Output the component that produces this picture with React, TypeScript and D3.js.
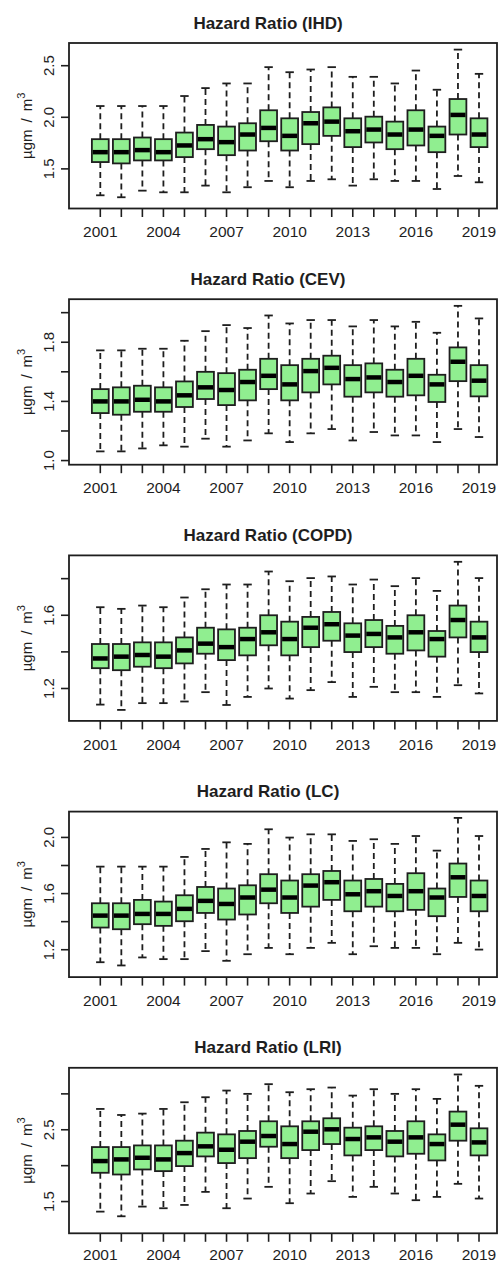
import React, { useEffect, useRef } from 'react';
import * as d3 from 'd3';

// five-number summaries per year: [low whisker, q1, median, q3, high whisker]
const years = d3.range(2001, 2020).map(String);
const yearLabels = ['2001', '2004', '2007', '2010', '2013', '2016', '2019'];

const ihd = [
  [1.244, 1.566, 1.662, 1.788, 2.109], [1.225, 1.553, 1.662, 1.788, 2.109],
  [1.289, 1.582, 1.682, 1.804, 2.109], [1.273, 1.582, 1.662, 1.788, 2.109],
  [1.273, 1.614, 1.727, 1.852, 2.206], [1.338, 1.691, 1.788, 1.926, 2.283],
  [1.273, 1.633, 1.759, 1.910, 2.328], [1.322, 1.678, 1.833, 1.942, 2.328],
  [1.383, 1.768, 1.897, 2.068, 2.486], [1.322, 1.678, 1.820, 1.990, 2.437],
  [1.383, 1.740, 1.942, 2.051, 2.463], [1.399, 1.820, 1.958, 2.096, 2.486],
  [1.338, 1.711, 1.865, 1.990, 2.392], [1.399, 1.756, 1.881, 2.006, 2.392],
  [1.383, 1.691, 1.833, 1.958, 2.328], [1.383, 1.727, 1.881, 2.068, 2.453],
  [1.305, 1.662, 1.820, 1.910, 2.267], [1.431, 1.833, 2.023, 2.177, 2.656],
  [1.370, 1.711, 1.833, 1.990, 2.421],
];
const cev = [
  [1.062, 1.321, 1.400, 1.483, 1.745], [1.062, 1.310, 1.400, 1.495, 1.745],
  [1.082, 1.330, 1.411, 1.506, 1.756], [1.103, 1.330, 1.400, 1.495, 1.756],
  [1.094, 1.362, 1.441, 1.535, 1.810], [1.148, 1.416, 1.495, 1.600, 1.875],
  [1.094, 1.375, 1.477, 1.591, 1.916], [1.136, 1.407, 1.531, 1.614, 1.896],
  [1.184, 1.483, 1.573, 1.688, 1.981], [1.125, 1.407, 1.515, 1.645, 1.927],
  [1.184, 1.461, 1.605, 1.688, 1.950], [1.213, 1.515, 1.627, 1.709, 1.950],
  [1.136, 1.432, 1.551, 1.645, 1.907], [1.193, 1.461, 1.562, 1.657, 1.950],
  [1.170, 1.432, 1.531, 1.614, 1.907], [1.170, 1.441, 1.573, 1.688, 1.938],
  [1.125, 1.396, 1.515, 1.580, 1.864], [1.213, 1.537, 1.668, 1.765, 2.046],
  [1.159, 1.434, 1.540, 1.645, 1.961],
];
const copd = [
  [1.112, 1.311, 1.364, 1.443, 1.644], [1.083, 1.300, 1.374, 1.443, 1.635],
  [1.120, 1.319, 1.383, 1.452, 1.653], [1.120, 1.311, 1.374, 1.452, 1.644],
  [1.129, 1.337, 1.408, 1.479, 1.697], [1.180, 1.390, 1.445, 1.532, 1.742],
  [1.110, 1.355, 1.426, 1.523, 1.768], [1.154, 1.381, 1.470, 1.532, 1.768],
  [1.200, 1.436, 1.507, 1.600, 1.839], [1.145, 1.381, 1.470, 1.565, 1.786],
  [1.191, 1.426, 1.532, 1.591, 1.803], [1.235, 1.461, 1.551, 1.618, 1.812],
  [1.154, 1.399, 1.489, 1.556, 1.768], [1.209, 1.426, 1.498, 1.574, 1.795],
  [1.180, 1.390, 1.479, 1.542, 1.759], [1.180, 1.408, 1.507, 1.600, 1.803],
  [1.154, 1.374, 1.470, 1.514, 1.733], [1.218, 1.479, 1.574, 1.653, 1.892],
  [1.173, 1.399, 1.479, 1.565, 1.803],
];
const lc = [
  [1.111, 1.358, 1.443, 1.531, 1.792], [1.088, 1.346, 1.443, 1.531, 1.792],
  [1.145, 1.382, 1.455, 1.555, 1.792], [1.133, 1.370, 1.455, 1.543, 1.792],
  [1.133, 1.403, 1.491, 1.588, 1.861], [1.190, 1.462, 1.548, 1.647, 1.918],
  [1.121, 1.415, 1.526, 1.636, 1.965], [1.168, 1.451, 1.572, 1.659, 1.954],
  [1.213, 1.531, 1.628, 1.738, 2.058], [1.168, 1.462, 1.572, 1.693, 1.999],
  [1.213, 1.507, 1.657, 1.738, 2.022], [1.249, 1.555, 1.681, 1.761, 2.022],
  [1.168, 1.474, 1.595, 1.693, 1.975], [1.225, 1.507, 1.617, 1.704, 1.987],
  [1.213, 1.474, 1.583, 1.669, 1.954], [1.213, 1.484, 1.617, 1.745, 2.010],
  [1.168, 1.439, 1.572, 1.636, 1.906], [1.249, 1.576, 1.716, 1.814, 2.139],
  [1.201, 1.474, 1.583, 1.693, 2.010],
];
const lri = [
  [1.360, 1.901, 2.064, 2.259, 2.790], [1.295, 1.877, 2.087, 2.259, 2.706],
  [1.430, 1.947, 2.110, 2.282, 2.725], [1.407, 1.924, 2.087, 2.282, 2.790],
  [1.453, 1.994, 2.175, 2.348, 2.883], [1.635, 2.129, 2.269, 2.460, 2.953],
  [1.407, 2.036, 2.222, 2.436, 3.046], [1.542, 2.105, 2.334, 2.483, 3.000],
  [1.705, 2.264, 2.413, 2.618, 3.135], [1.477, 2.105, 2.301, 2.548, 3.023],
  [1.612, 2.217, 2.473, 2.618, 3.065], [1.784, 2.301, 2.506, 2.660, 3.088],
  [1.565, 2.143, 2.371, 2.529, 2.976], [1.705, 2.217, 2.394, 2.548, 3.065],
  [1.612, 2.129, 2.334, 2.483, 3.000], [1.519, 2.166, 2.394, 2.618, 3.065],
  [1.565, 2.073, 2.301, 2.436, 2.930], [1.747, 2.348, 2.571, 2.753, 3.270],
  [1.542, 2.143, 2.324, 2.520, 3.112],
];

const titles = ['Hazard Ratio (IHD)', 'Hazard Ratio (CEV)', 'Hazard Ratio (COPD)', 'Hazard Ratio (LC)', 'Hazard Ratio (LRI)'];
const yDomains = [[1.116, 2.72], [0.972, 2.091], [1.023, 1.927], [1.005, 2.184], [1.058, 3.363]];
const yTicks = [[1.5, 2.0, 2.5], [1.0, 1.2, 1.4, 1.6, 1.8, 2.0], [1.2, 1.4, 1.6, 1.8], [1.2, 1.4, 1.6, 1.8, 2.0], [1.5, 2.0, 2.5, 3.0]];
const yLabels = [[1.5, 2.0, 2.5], [1.0, 1.4, 1.8], [1.2, 1.6], [1.2, 1.6, 2.0], [1.5, 2.5]];
const panelData = [ihd, cev, copd, lc, lri];

const W = 500, H = 1261;
const FONT = '"Liberation Sans", Arial, sans-serif';
const INK = '#1e1e1e';

export default function App() {
  const ref = useRef<SVGSVGElement>(null);

  useEffect(() => {
    const svg = d3.select(ref.current);
    svg.selectAll('*').remove();

    const left = 69, right = 497, plotH = 165.5, step = 256.2, firstTop = 43;
    const x = d3.scalePoint<string>().domain(years).range([100.3, 479]);
    const boxW = x.step() * 0.8;

    panelData.forEach((data, i) => {
      const top = firstTop + step * i;
      const bottom = top + plotH;
      const y = d3.scaleLinear().domain(yDomains[i]).range([bottom, top]);
      const g = svg.append('g');

      g.append('text')
        .attr('x', 268).attr('y', top - 14.5)
        .attr('text-anchor', 'middle')
        .style('font-family', FONT).style('font-weight', 'bold').style('font-size', '17px')
        .attr('fill', INK)
        .text(titles[i]);

      // boxes
      data.forEach((d, j) => {
        const cx = x(years[j]) as number;
        const [lo, q1, med, q3, hi] = d;
        const bg = g.append('g');
        bg.append('line')
          .attr('x1', cx).attr('x2', cx).attr('y1', y(q3)).attr('y2', y(hi))
          .attr('stroke', INK).attr('stroke-width', 1.8).attr('stroke-dasharray', '6,4');
        bg.append('line')
          .attr('x1', cx).attr('x2', cx).attr('y1', y(q1)).attr('y2', y(lo))
          .attr('stroke', INK).attr('stroke-width', 1.8).attr('stroke-dasharray', '6,4');
        [lo, hi].forEach((v) => {
          bg.append('line')
            .attr('x1', cx - boxW / 4).attr('x2', cx + boxW / 4)
            .attr('y1', y(v)).attr('y2', y(v))
            .attr('stroke', INK).attr('stroke-width', 1.8);
        });
        bg.append('rect')
          .attr('x', cx - boxW / 2).attr('width', boxW)
          .attr('y', y(q3)).attr('height', y(q1) - y(q3))
          .attr('fill', '#90ee90').attr('stroke', INK).attr('stroke-width', 1.8);
        bg.append('line')
          .attr('x1', cx - boxW / 2 + 0.9).attr('x2', cx + boxW / 2 - 0.9)
          .attr('y1', y(med)).attr('y2', y(med))
          .attr('stroke', '#000').attr('stroke-width', 4.5);
      });

      // frame
      g.append('rect')
        .attr('x', left).attr('y', top).attr('width', right - left).attr('height', plotH)
        .attr('fill', 'none').attr('stroke', INK).attr('stroke-width', 1.8);

      // x axis
      const xa = g.append('g');
      const labelY = Math.min(bottom + 28.7, H - 1.5);
      years.forEach((yr) => {
        const cx = x(yr) as number;
        xa.append('line')
          .attr('x1', cx).attr('x2', cx).attr('y1', bottom).attr('y2', bottom + 8.5)
          .attr('stroke', INK).attr('stroke-width', 1.6);
        if (yearLabels.includes(yr)) {
          xa.append('text')
            .attr('x', cx).attr('y', labelY)
            .attr('text-anchor', 'middle')
            .style('font-family', FONT).style('font-size', '15.5px')
            .attr('fill', INK)
            .text(yr);
        }
      });

      // y axis
      const ya = g.append('g');
      yTicks[i].forEach((t) => {
        ya.append('line')
          .attr('x1', left - 8).attr('x2', left).attr('y1', y(t)).attr('y2', y(t))
          .attr('stroke', INK).attr('stroke-width', 1.6);
      });
      yLabels[i].forEach((t) => {
        ya.append('text')
          .attr('transform', `translate(53.5,${y(t)}) rotate(-90)`)
          .attr('text-anchor', 'middle')
          .style('font-family', FONT).style('font-size', '15px')
          .attr('fill', INK)
          .text(t.toFixed(1));
      });

      const lab = ya.append('text')
        .attr('transform', `translate(32,${(top + bottom) / 2}) rotate(-90)`)
        .attr('text-anchor', 'middle')
        .style('font-family', FONT).style('font-size', '15px')
        .attr('fill', INK);
      lab.append('tspan').text('µgm');
      lab.append('tspan').attr('dx', 7).text('/');
      lab.append('tspan').attr('dx', 7).text('m');
      lab.append('tspan').attr('dy', -7).style('font-size', '11px').text('3');
    });
  }, []);

  return (
    <svg ref={ref} width={W} height={H}
      style={{ position: 'absolute', left: 0, top: 0, background: '#fff' }} />
  );
}
